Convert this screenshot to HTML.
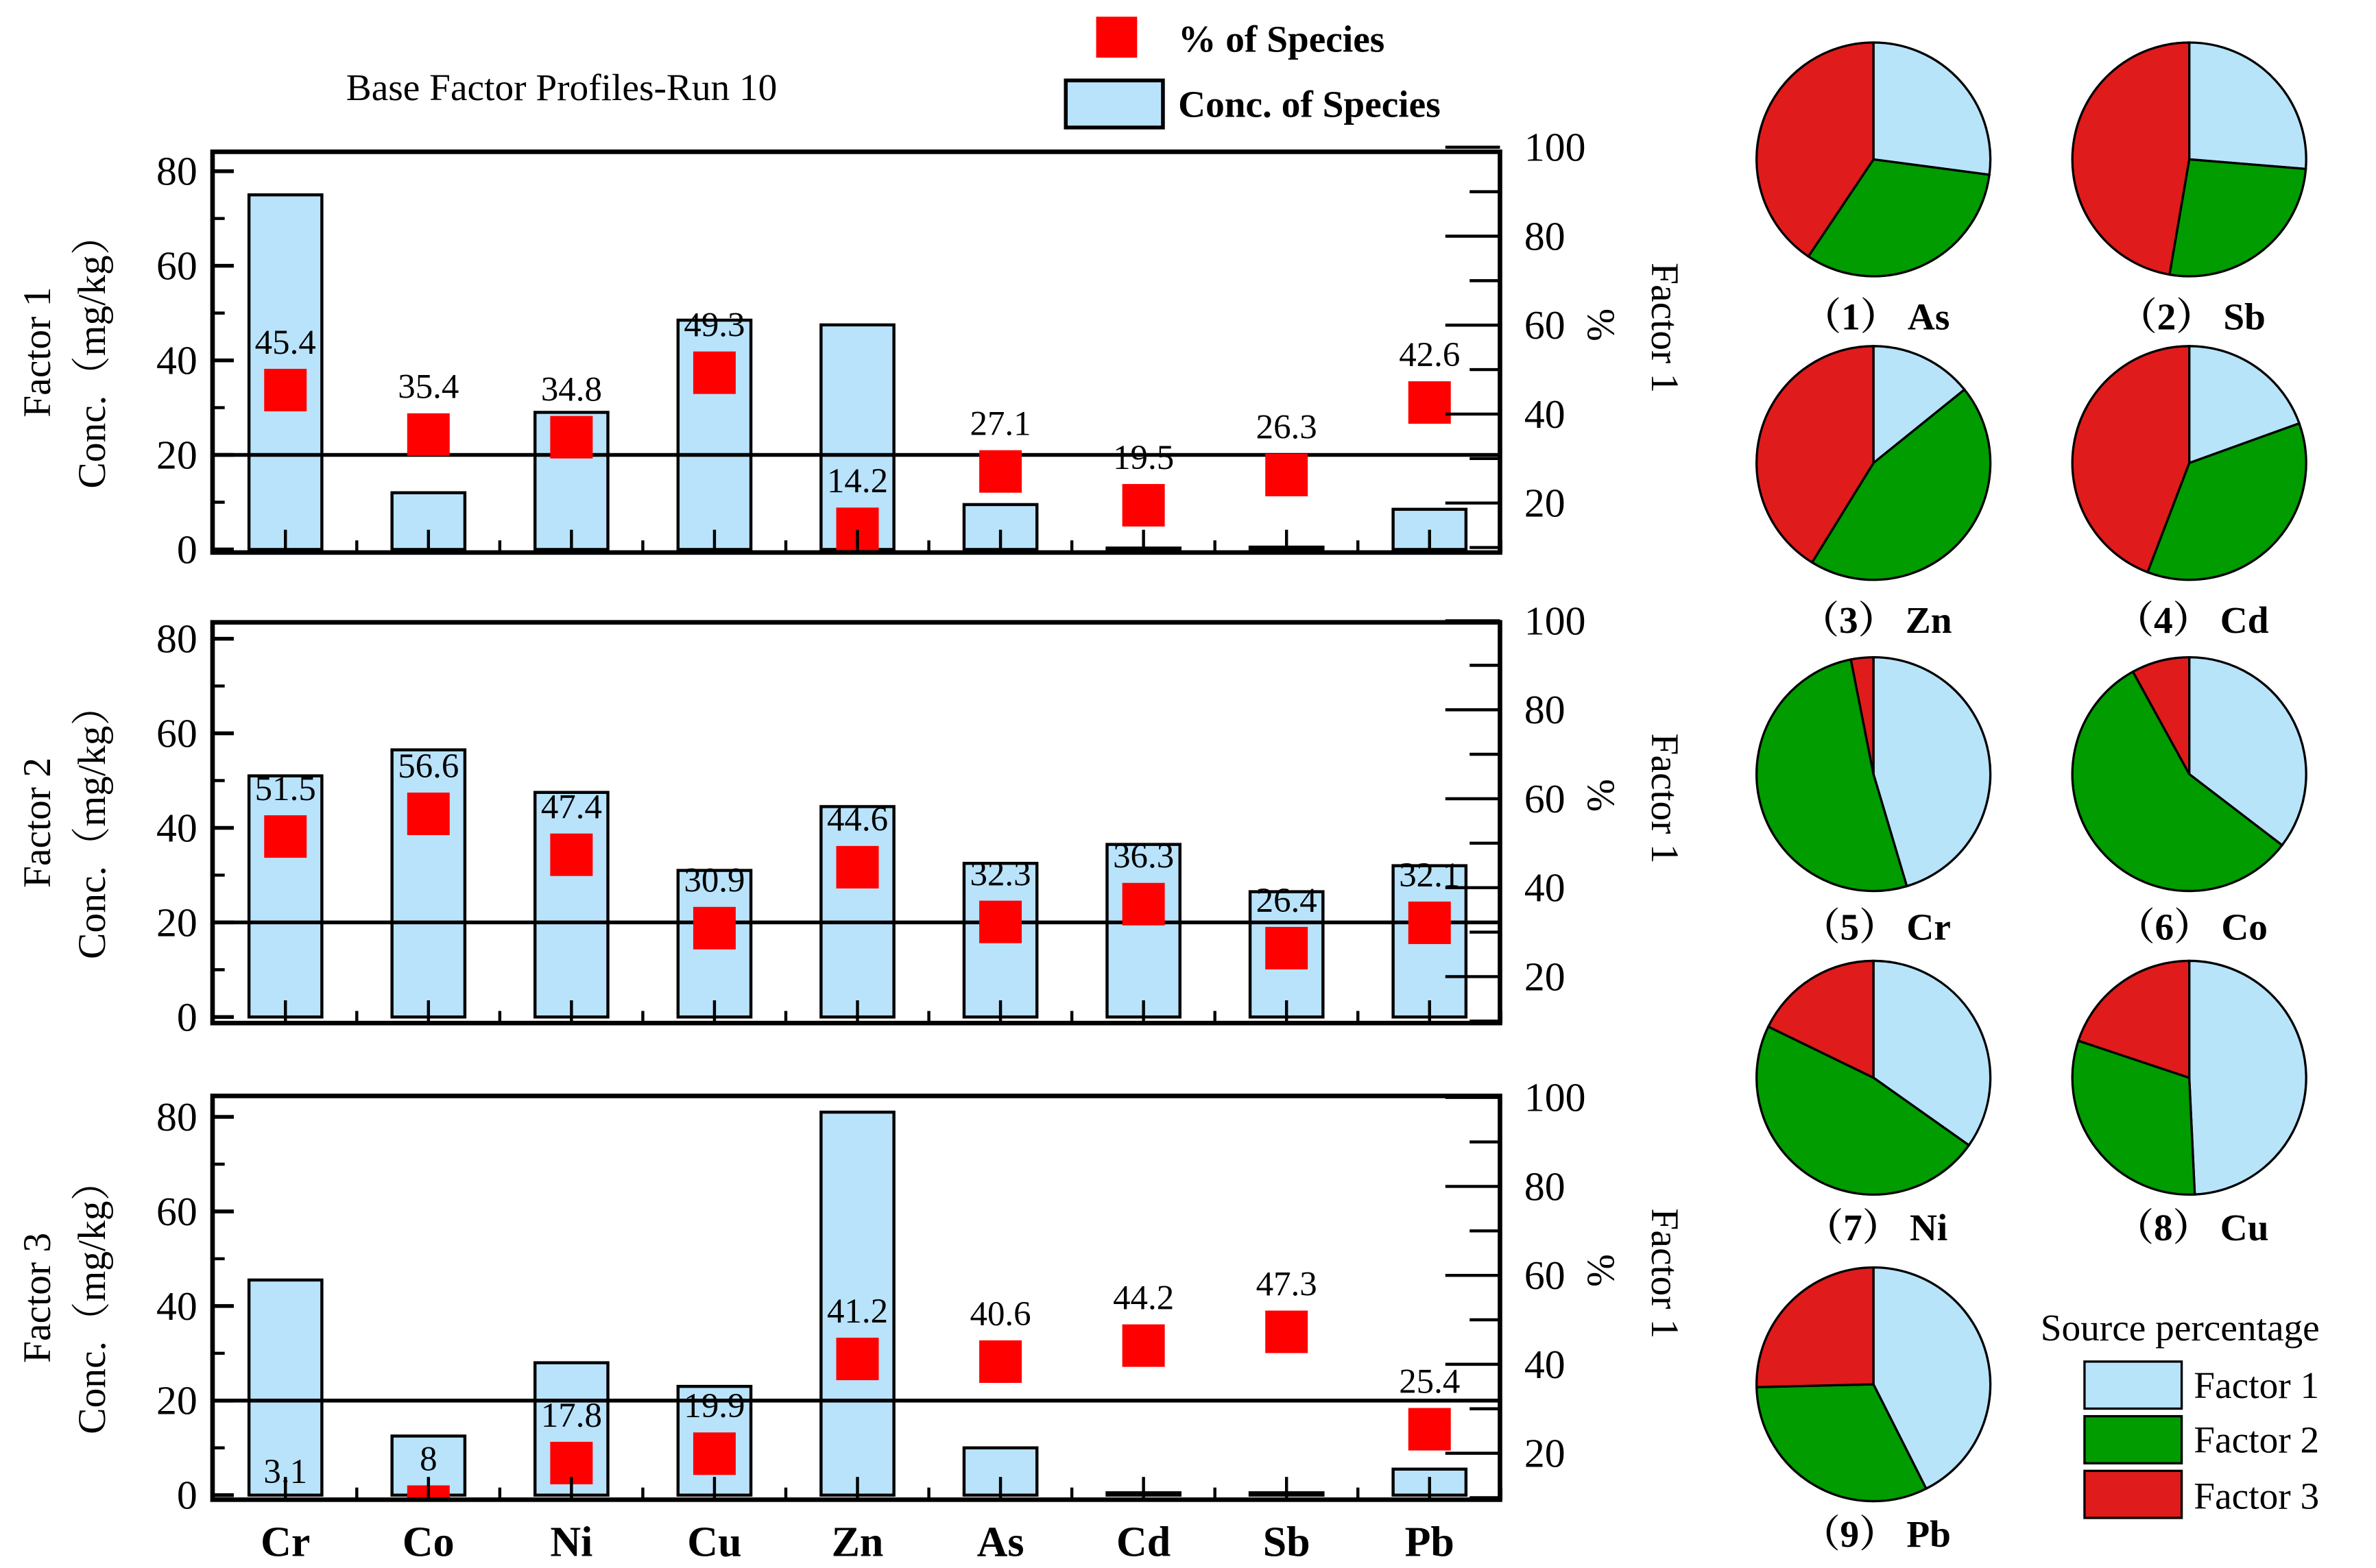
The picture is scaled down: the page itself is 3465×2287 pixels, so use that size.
<!DOCTYPE html>
<html><head><meta charset="utf-8"><style>
html,body{margin:0;padding:0;background:#fff}
svg{display:block}
text{font-family:"Liberation Serif","Noto Serif CJK SC",serif;fill:#000}
</style></head><body>
<svg id="chart" width="3465" height="2287" viewBox="0 0 1565 1033" preserveAspectRatio="none" xmlns="http://www.w3.org/2000/svg">
<text x="228" y="66" font-size="25">Base Factor Profiles-Run 10</text>
<g>
<rect x="722" y="11" width="27" height="27" fill="#ff0000"/>
<text x="776" y="34" font-size="25" font-weight="bold">% of Species</text>
<rect x="702" y="53" width="64" height="31" fill="#b9e3fb" stroke="#000" stroke-width="2.5"/>
<text x="776" y="77" font-size="25" font-weight="bold">Conc. of Species</text>
</g>
<g id="panels"></g>
<g id="pies"></g>
<g>
<text x="1344" y="883" font-size="25">Source percentage</text>
<rect x="1373" y="897" width="64" height="31" fill="#b8e4fa" stroke="#000" stroke-width="1.5"/>
<text x="1445" y="921" font-size="25">Factor 1</text>
<rect x="1373" y="933" width="64" height="31" fill="#009c00" stroke="#000" stroke-width="1.5"/>
<text x="1445" y="957" font-size="25">Factor 2</text>
<rect x="1373" y="969" width="64" height="31" fill="#e01b1b" stroke="#000" stroke-width="1.5"/>
<text x="1445" y="994" font-size="25">Factor 3</text>
</g>
</svg>
<script>
const categories = ["Cr","Co","Ni","Cu","Zn","As","Cd","Sb","Pb"];
const conc1 = [75,12,29,48.5,47.5,9.5,0.3,0.5,8.5];
const conc2 = [51,56.5,47.5,31,44.5,32.5,36.5,26.5,32];
const conc3 = [45.5,12.5,28,23,81,10,0.5,0.5,5.5];
const pct1 = [45.4,35.4,34.8,49.3,14.2,27.1,19.5,26.3,42.6];
const pct2 = [51.5,56.6,47.4,30.9,44.6,32.3,36.3,26.4,32.1];
const pct3 = [3.1,8,17.8,19.9,41.2,40.6,44.2,47.3,25.4];
const leftTicks = [0,20,40,60,80];
const rightTicks = [20,40,60,80,100];
const factorNames = ["Factor 1","Factor 2","Factor 3"];
const pieElements = ["As","Sb","Zn","Cd","Cr","Co","Ni","Cu","Pb"];

const NS="http://www.w3.org/2000/svg";
function mk(tag,attrs,parent){const e=document.createElementNS(NS,tag);for(const k in attrs)e.setAttribute(k,attrs[k]);parent.appendChild(e);return e;}
const panelsG=document.getElementById('panels');
const X0=140,X1=988;
const xc=i=>188+i*94.2;
const panelGeo=[{top:100,bot:364,zero:362,rzero:390},{top:410,bot:674,zero:670,rzero:702},{top:722,bot:988,zero:985,rzero:1016}];
const concs=[conc1,conc2,conc3], pcts=[pct1,pct2,pct3];
panelGeo.forEach((g,p)=>{
  const G=mk('g',{},panelsG);
  
  
  const yL=v=>g.zero-v*3.115;
  const yR=v=>g.rzero-v*2.93;
  const cid='clip'+p;
  const cp=mk('clipPath',{id:cid},G);mk('rect',{x:X0,y:g.top,width:X1-X0,height:g.bot-g.top},cp);
  const inner=mk('g',{'clip-path':'url(#'+cid+')'},G);
  concs[p].forEach((v,i)=>{
    const r=mk('rect',{x:xc(i)-24,y:yL(v),width:48,height:Math.max(0,g.zero-yL(v)),fill:'#b9e3fb',stroke:'#000','stroke-width':2},inner);
    
    
  });
  // reference line at 20
  mk('line',{x1:X0,x2:X1,y1:yL(20),y2:yL(20),stroke:'#000','stroke-width':2.5},inner);
  pcts[p].forEach((v,i)=>{
    const s=mk('rect',{x:xc(i)-14,y:yR(v)-14,width:28,height:28,fill:'#ff0000'},inner);
    
    
  });
  pcts[p].forEach((v,i)=>{
    const t=mk('text',{x:xc(i),y:Math.min(yR(v)-24,g.zero-8),'font-size':23,'text-anchor':'middle'},G);
    t.textContent=String(v);
    
    
  });
  // box
  mk('rect',{x:X0,y:g.top,width:X1-X0,height:g.bot-g.top,fill:'none',stroke:'#000','stroke-width':3},G);
  // left ticks
  leftTicks.forEach(v=>{
    mk('line',{x1:X0,x2:X0+14,y1:yL(v),y2:yL(v),stroke:'#000','stroke-width':2.5},G);
    if(v<80) mk('line',{x1:X0,x2:X0+8,y1:yL(v+10),y2:yL(v+10),stroke:'#000','stroke-width':2},G);
    const t=mk('text',{x:X0-10,y:yL(v)+9,'font-size':27,'text-anchor':'end'},G);
    t.textContent=v;
    
    
  });
  rightTicks.forEach(v=>{
    mk('line',{x1:X1-36,x2:X1,y1:yR(v),y2:yR(v),stroke:'#000','stroke-width':2},G);
    mk('line',{x1:X1-20,x2:X1,y1:yR(v-10),y2:yR(v-10),stroke:'#000','stroke-width':2},G);
    const t=mk('text',{x:X1+16,y:yR(v)+9,'font-size':27},G);
    t.textContent=v;
    
    
  });
  categories.forEach((c,i)=>{
    mk('line',{x1:xc(i),x2:xc(i),y1:g.bot,y2:g.bot-15,stroke:'#000','stroke-width':2},G);
    mk('line',{x1:xc(i)+47,x2:xc(i)+47,y1:g.bot,y2:g.bot-8,stroke:'#000','stroke-width':2},G);
    if(p===2){const t=mk('text',{x:xc(i),y:1025,'font-size':28,'font-weight':'bold','text-anchor':'middle'},G);
      t.textContent=c;
      
      }
  });
  const mid=(g.top+g.bot)/2;
  const a=mk('text',{transform:`translate(33,${mid}) rotate(-90)`,'font-size':26,'text-anchor':'middle'},G);
  a.textContent=factorNames[p];
  
  
  const b=mk('text',{transform:`translate(69,${mid}) rotate(-90)`,'font-size':26,'text-anchor':'middle'},G);
  b.textContent='Conc.（mg/kg）';
  
  
  const c=mk('text',{transform:`translate(1046,${mid-18}) rotate(90)`,'font-size':26,'text-anchor':'middle'},G);
  c.textContent='%';
  
  
  const d=mk('text',{transform:`translate(1088,${mid-16}) rotate(90)`,'font-size':26,'text-anchor':'middle'},G);
  d.textContent='Factor 1';
  
  
});
// pies
const piesG=document.getElementById('pies');
const pieCols=[1234,1442], pieRows=[105,305,510,710,912], labY=[217,417,619,817,1019];
const pieColors=['#b8e4fa','#009c00','#e01b1b'];
pieElements.forEach((el,k)=>{
  const i=categories.indexOf(el);
  const vals=[pct1[i],pct2[i],pct3[i]];
  const tot=vals[0]+vals[1]+vals[2];
  const cx=pieCols[k%2], cy=pieRows[Math.floor(k/2)], r=77;
  const G=mk('g',{},piesG);
  
  
  let a0=0;
  vals.forEach((v,j)=>{
    const a1=a0+v/tot*2*Math.PI;
    const p0=[cx+r*Math.sin(a0),cy-r*Math.cos(a0)], p1=[cx+r*Math.sin(a1),cy-r*Math.cos(a1)];
    const large=(a1-a0)>Math.PI?1:0;
    const s=mk('path',{d:`M${cx},${cy}L${p0[0]},${p0[1]}A${r},${r} 0 ${large} 1 ${p1[0]},${p1[1]}Z`,fill:pieColors[j],stroke:'#000','stroke-width':1.5},G);
    
    
    a0=a1;
  });
  const t=mk('text',{x:cx+2,y:labY[Math.floor(k/2)],'font-size':25,'font-weight':'bold','text-anchor':'middle'},G);
  t.textContent='（'+(k+1)+'） '+el;
  
  
});
</script>
</body></html>
